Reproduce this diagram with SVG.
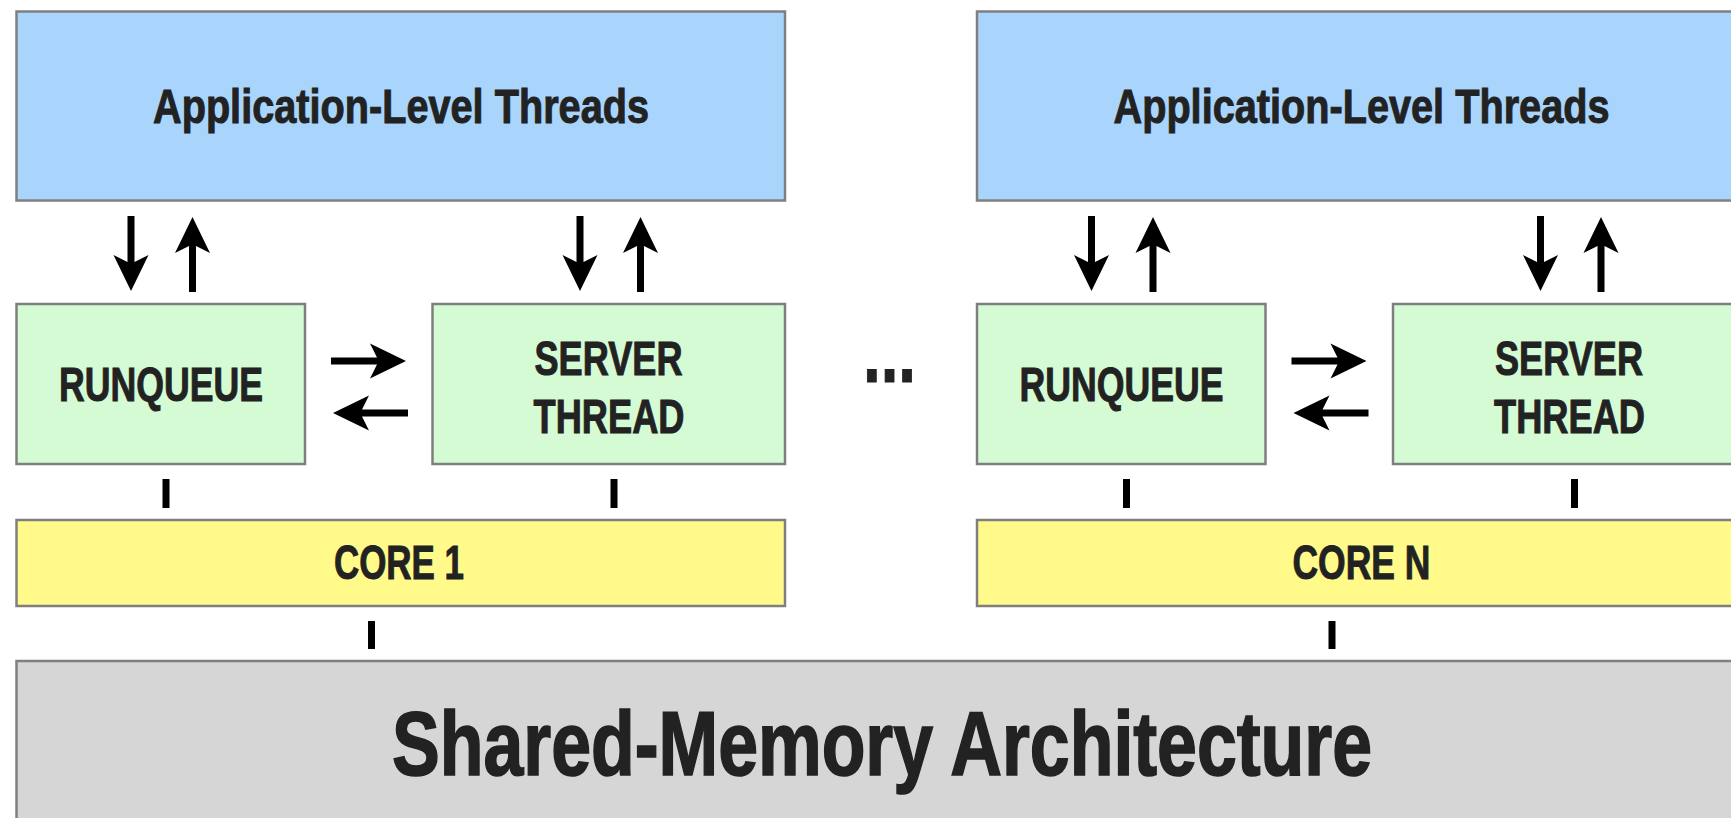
<svg xmlns="http://www.w3.org/2000/svg" width="1731" height="818" viewBox="0 0 1731 818">
<style>
.box{stroke:#7f7f7f;stroke-width:2.5}
.app{fill:#a9d5fd}
.rq{fill:#d4fbd4}
.core{fill:#fffa8a}
.mem{fill:#d6d6d6}
.t{font-family:"Liberation Sans Narrow","Liberation Sans",Arial,sans-serif;font-weight:bold;fill:#222;stroke:#222;stroke-width:1;text-anchor:middle}
.m{font-size:49px}
.big{font-size:90px;stroke-width:1.6}
.bar{fill:#000}
</style>
<defs>
<path id="arr" d="M0,0 L-36,-17.5 L-29,-3.5 L-75,-3.5 L-75,3.5 L-29,3.5 L-36,17.5 Z" fill="#000"/>
</defs>
<rect width="1731" height="818" fill="#fff"/>

<g id="app1"><rect class="box app" x="16.5" y="11.5" width="768.5" height="189"/><text class="t m" x="401" y="122.5" textLength="496" lengthAdjust="spacingAndGlyphs">Application-Level Threads</text></g>
<g id="app2"><rect class="box app" x="977" y="11.5" width="768.5" height="189"/><text class="t m" x="1361.5" y="122.5" textLength="496" lengthAdjust="spacingAndGlyphs">Application-Level Threads</text></g>

<g id="runqueue1"><rect class="box rq" x="16.5" y="304" width="288.5" height="160"/><text class="t m" x="161" y="400.5" textLength="204" lengthAdjust="spacingAndGlyphs">RUNQUEUE</text></g>
<g id="server1"><rect class="box rq" x="432.5" y="304" width="352.5" height="160"/><text class="t m" x="608.5" y="374.5" textLength="148" lengthAdjust="spacingAndGlyphs">SERVER</text><text class="t m" x="609" y="432.5" textLength="151" lengthAdjust="spacingAndGlyphs">THREAD</text></g>
<g id="runqueue2"><rect class="box rq" x="977" y="304" width="288.5" height="160"/><text class="t m" x="1121.5" y="400.5" textLength="204" lengthAdjust="spacingAndGlyphs">RUNQUEUE</text></g>
<g id="server2"><rect class="box rq" x="1393" y="304" width="352.5" height="160"/><text class="t m" x="1569" y="374.5" textLength="148" lengthAdjust="spacingAndGlyphs">SERVER</text><text class="t m" x="1569.5" y="432.5" textLength="151" lengthAdjust="spacingAndGlyphs">THREAD</text></g>

<g id="ellipsis"><text class="t" x="889.5" y="382" font-size="84" textLength="53" lengthAdjust="spacingAndGlyphs">...</text></g>

<g id="core1"><rect class="box core" x="16.5" y="520" width="768.5" height="86"/><text class="t m" x="399" y="578.5" textLength="130" lengthAdjust="spacingAndGlyphs">CORE 1</text></g>
<g id="coreN"><rect class="box core" x="977" y="520" width="768.5" height="86"/><text class="t m" x="1361.5" y="578.5" textLength="138" lengthAdjust="spacingAndGlyphs">CORE N</text></g>

<g id="memory"><rect class="box mem" x="16.5" y="661" width="1729" height="170"/><text class="t big" x="882" y="775" textLength="980" lengthAdjust="spacingAndGlyphs">Shared-Memory Architecture</text></g>

<g id="connectors">
<use href="#arr" transform="translate(131,291) rotate(90)"/>
<use href="#arr" transform="translate(192.5,217) rotate(-90)"/>
<use href="#arr" transform="translate(580,291) rotate(90)"/>
<use href="#arr" transform="translate(640.5,217) rotate(-90)"/>
<use href="#arr" transform="translate(406,361)"/>
<use href="#arr" transform="translate(333,413) rotate(180)"/>
<use href="#arr" transform="translate(1091.5,291) rotate(90)"/>
<use href="#arr" transform="translate(1153,217) rotate(-90)"/>
<use href="#arr" transform="translate(1540.5,291) rotate(90)"/>
<use href="#arr" transform="translate(1601,217) rotate(-90)"/>
<use href="#arr" transform="translate(1366.5,361)"/>
<use href="#arr" transform="translate(1293.5,413) rotate(180)"/>
<rect class="bar" x="162.5" y="479" width="7" height="29"/>
<rect class="bar" x="610.5" y="479" width="7" height="29"/>
<rect class="bar" x="1123" y="479" width="7" height="29"/>
<rect class="bar" x="1571" y="479" width="7" height="29"/>
<rect class="bar" x="368" y="621" width="7" height="28"/>
<rect class="bar" x="1328.5" y="621" width="7" height="28"/>
</g>
</svg>
